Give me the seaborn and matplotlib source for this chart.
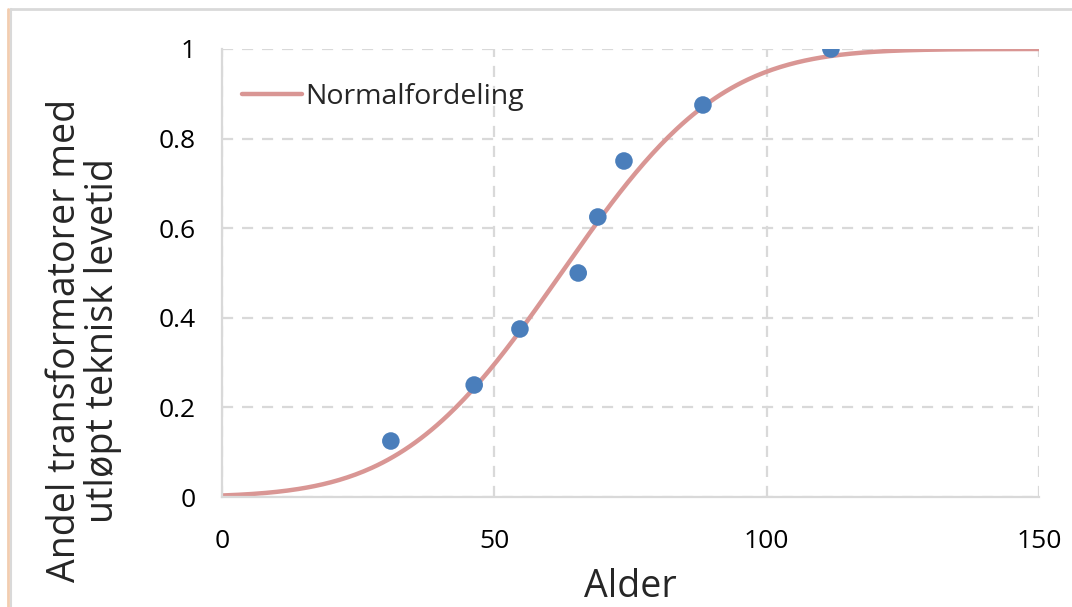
import math
import numpy as np
import pandas as pd
import matplotlib
matplotlib.use("Agg")
import matplotlib.pyplot as plt
from matplotlib.lines import Line2D
import seaborn as sns

# Observed share of transformers past their technical lifetime
alder_obs = [31.0, 46.3, 54.7, 65.4, 69.0, 73.8, 88.3, 111.8]
andel_obs = [0.125, 0.25, 0.375, 0.5, 0.625, 0.75, 0.875, 1.0]

# Fitted normal distribution (mean age, standard deviation)
mu = 62.3
sigma = 23.0

x_ticks = [0, 50, 100, 150]
y_ticks = [0, 0.2, 0.4, 0.6, 0.8, 1]
y_ticklabels = ["0", "0.2", "0.4", "0.6", "0.8", "1"]

alder_fit = np.linspace(0, 150, 301)
andel_fit = [0.5 * (1 + math.erf((a - mu) / (sigma * math.sqrt(2)))) for a in alder_fit]

df_obs = pd.DataFrame({"Alder": alder_obs, "Andel": andel_obs})
df_fit = pd.DataFrame({"Alder": alder_fit, "Andel": andel_fit})

sns.set_theme(style="white")
plt.rcParams["font.family"] = ["Open Sans", "DejaVu Sans"]

fig = plt.figure(figsize=(10.72, 6.07), dpi=100)
ax = fig.add_axes([0.2071, 0.1812, 0.7621, 0.7381])

grid_c = "#d9d9d9"
sns.lineplot(data=df_fit, x="Alder", y="Andel", ax=ax, color="#d99694",
             linewidth=3.2, label="Normalfordeling", zorder=3)
sns.scatterplot(data=df_obs, x="Alder", y="Andel", ax=ax, color="#4a7ebb",
                s=160, edgecolor="none", zorder=4, legend=False)

ax.set_xlim(0, 150)
ax.set_ylim(0, 1)
ax.set_xticks(x_ticks)
ax.set_yticks(y_ticks)
ax.set_yticklabels(y_ticklabels)
ax.tick_params(axis="both", length=0, labelsize=19, colors="black")
ax.tick_params(axis="y", pad=19)
ax.tick_params(axis="x", pad=23)

ax.grid(True, color=grid_c, linestyle=(0, (5, 4)), linewidth=1.6)
for s in ["top", "right"]:
    ax.spines[s].set_visible(False)
for s in ["left", "bottom"]:
    ax.spines[s].set_color(grid_c)
    ax.spines[s].set_linewidth(1.6)
    ax.spines[s].set_zorder(5)
ax.set_axisbelow(True)

ax.set_xlabel("Alder", fontsize=27, labelpad=10)
ax.set_ylabel("Andel transformatorer med\nutløpt teknisk levetid", fontsize=27,
              linespacing=1.0)
ax.yaxis.set_label_coords(-0.123, 0.35)

leg = ax.legend(loc="center left", bbox_to_anchor=(0.0, 0.893), frameon=False,
                fontsize=20.5, handlelength=2.1, handletextpad=0.12, borderaxespad=0.3)

# frame around the figure
fig.add_artist(Line2D([10 / 1072, 1], [1 - 9 / 607, 1 - 9 / 607], color="#d9d9d9",
                      linewidth=2, transform=fig.transFigure))
fig.add_artist(Line2D([11 / 1072, 11 / 1072], [0, 1 - 9 / 607], color="#d9d9d9",
                      linewidth=1.5, transform=fig.transFigure))
fig.add_artist(Line2D([8 / 1072, 8 / 1072], [0, 1 - 9 / 607], color="#f2cdb0",
                      linewidth=2, transform=fig.transFigure))

fig.savefig("out.png", dpi=100, facecolor="white")
